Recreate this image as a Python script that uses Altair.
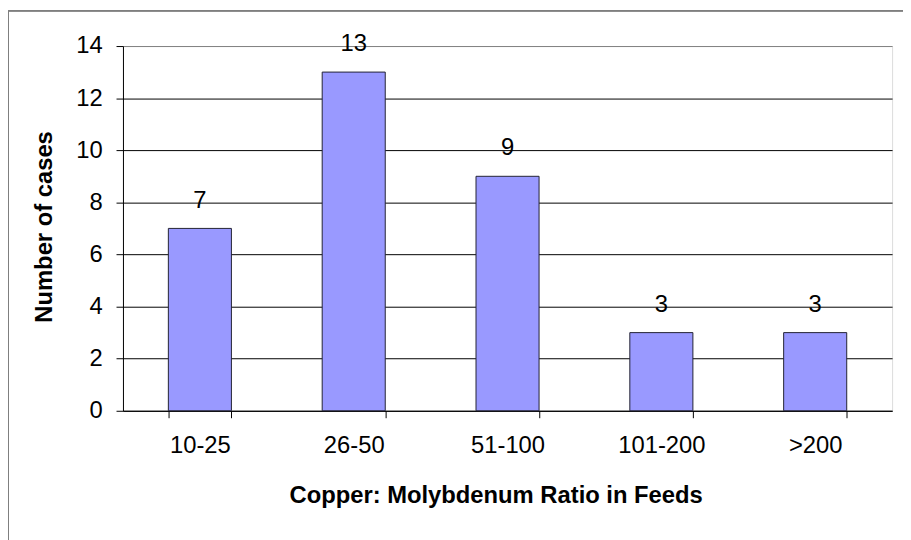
import altair as alt
import pandas as pd

categories = ["10-25", "26-50", "51-100", "101-200", ">200"]
cases = [7, 13, 9, 3, 3]

df = pd.DataFrame({"ratio": categories, "cases": cases})

FONT = "Liberation Sans"

x = alt.X(
    "ratio:N",
    sort=categories,
    scale=alt.Scale(paddingInner=0.59, paddingOuter=0.295),
    axis=alt.Axis(
        title="Copper: Molybdenum Ratio in Feeds",
        labelAngle=0,
        tickBand="extent",
        tickSize=7,
        tickColor="black",
        domainColor="black",
        labelPadding=16,
        labelFontSize=24,
        labelFont=FONT,
        labelColor="black",
        titleFont=FONT,
        titleFontSize=24,
        titleFontWeight="bold",
        titleColor="black",
        titleX=376,
        titleY=86,
        titleBaseline="middle",
    ),
)
y = alt.Y(
    "cases:Q",
    scale=alt.Scale(domain=[0, 14], nice=False),
    axis=alt.Axis(
        title="Number of cases",
        values=[0, 2, 4, 6, 8, 10, 12, 14],
        grid=True,
        gridColor={
            "condition": {"test": "datum.value == 14", "value": "#808080"},
            "value": "black",
        },
        tickSize=7,
        tickColor="black",
        domainColor="black",
        labelPadding=14,
        labelFontSize=24,
        labelFont=FONT,
        labelColor="black",
        titleFont=FONT,
        titleFontSize=24,
        titleFontWeight="bold",
        titleColor="black",
        titleX=-79,
        titleY=182,
        titleBaseline="middle",
        titleAlign="center",
    ),
)

bars = alt.Chart(df).mark_bar(
    color="#9999FF", stroke="#222233", strokeWidth=1
).encode(x=x, y=y)

labels = alt.Chart(df).mark_text(
    font=FONT, fontSize=24, color="black", baseline="alphabetic", dy=-21
).encode(x=alt.X("ratio:N", sort=categories), y="cases:Q", text="cases:Q")

border = alt.Chart(df).mark_rect(
    fill=None, stroke="#808080", strokeWidth=1
).encode(
    x=alt.value(-115.5), x2=alt.value(900), y=alt.value(-35.5), y2=alt.value(700)
)

chart = (
    alt.layer(border, bars, labels)
    .properties(
        width=776,
        height=368,
        autosize=alt.AutoSizeParams(type="none"),
        padding={"left": 116, "top": 36, "right": 11, "bottom": 128},
    )
    .configure_view(stroke="#808080", strokeWidth=1)
    .configure(background="white")
)

chart.save("out.html", embed_options={"renderer": "svg", "actions": False})
